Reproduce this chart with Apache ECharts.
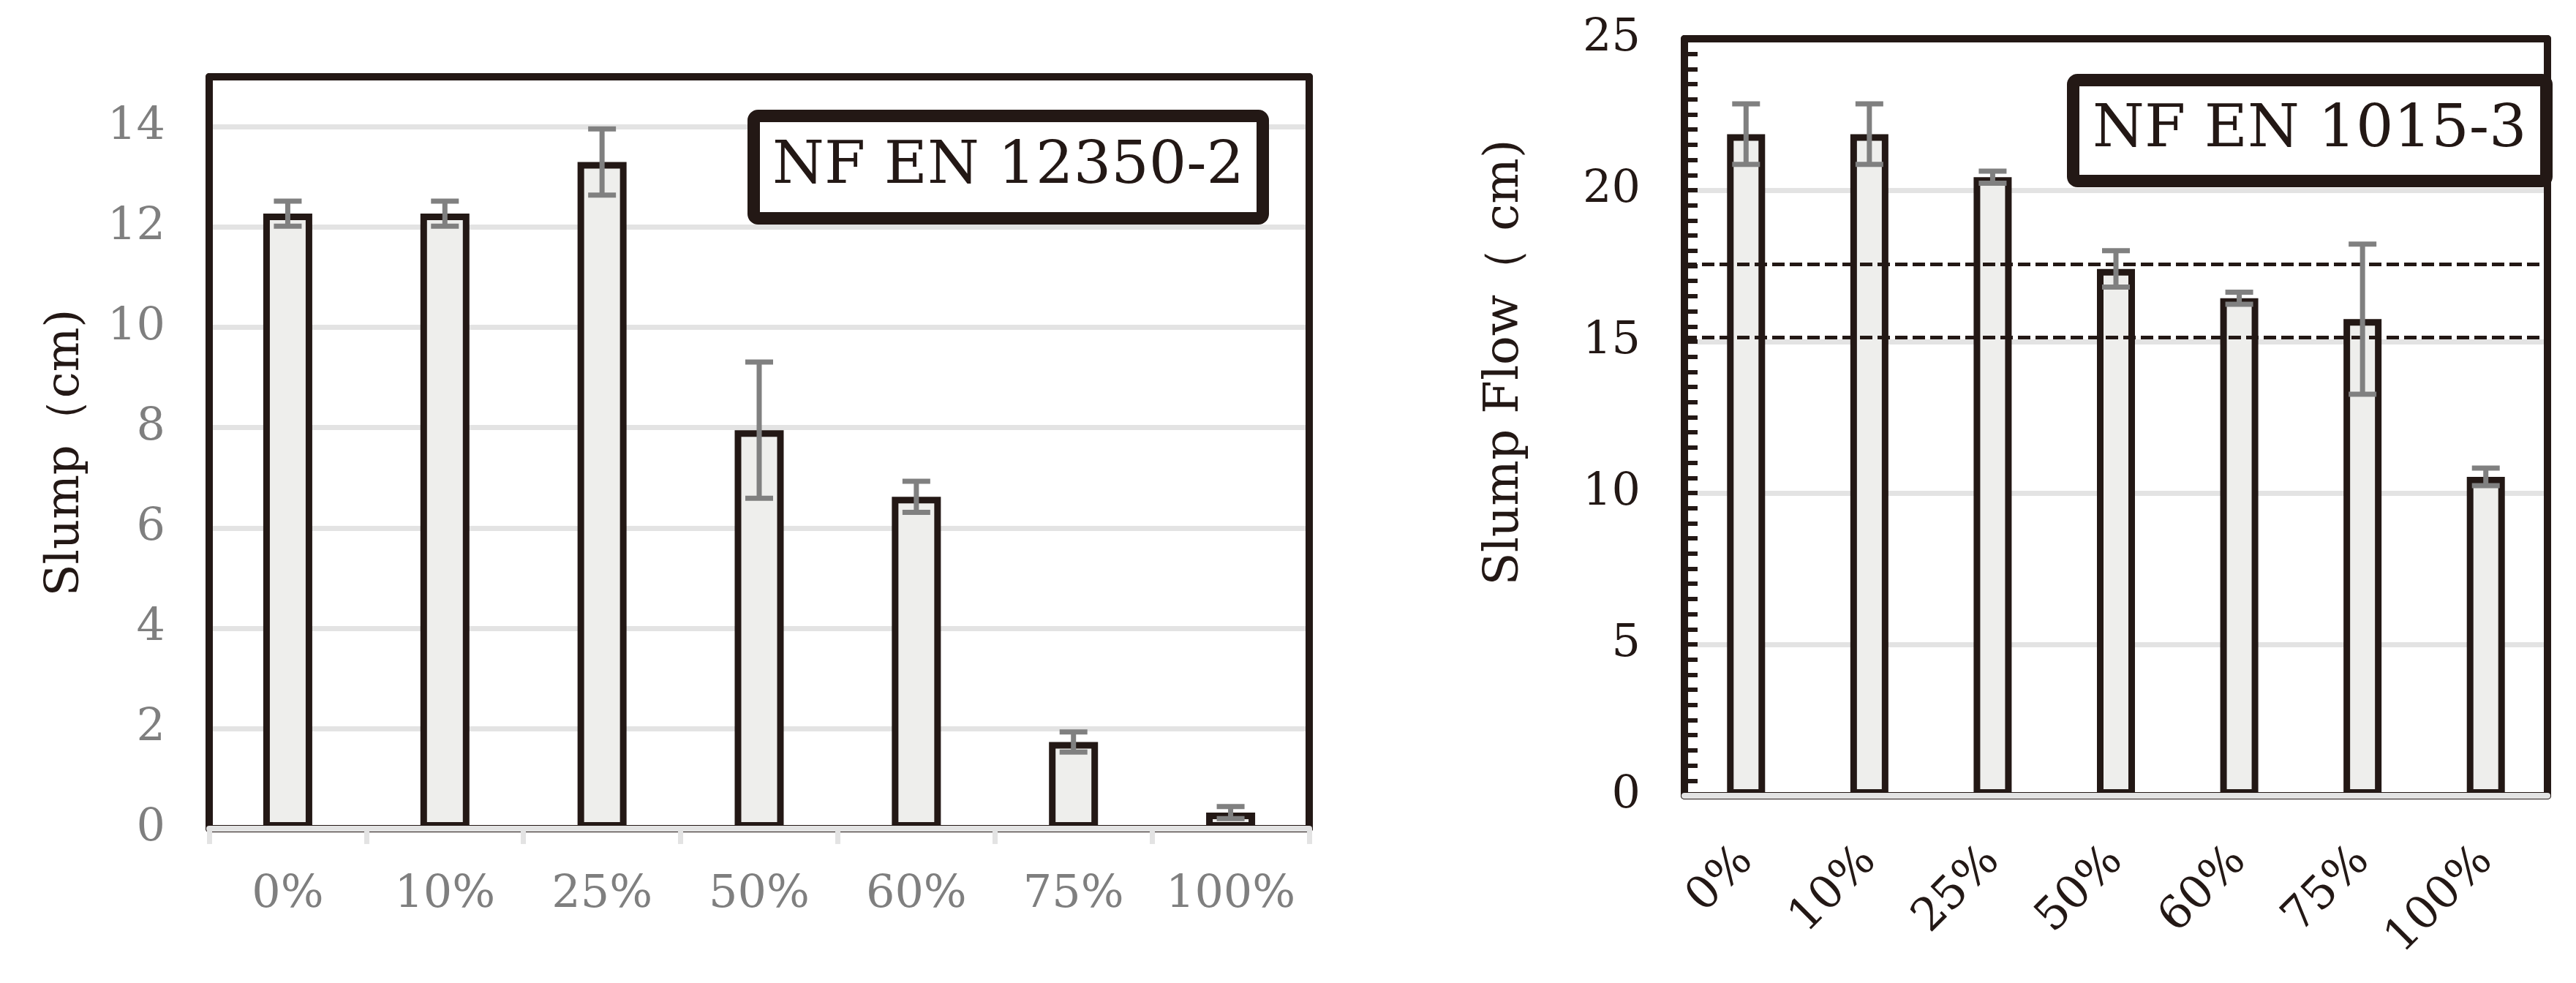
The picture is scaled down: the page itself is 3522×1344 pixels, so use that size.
<!DOCTYPE html>
<html>
<head>
<meta charset="utf-8">
<title>Slump</title>
<script src="https://cdn.jsdelivr.net/npm/echarts@6/dist/echarts.min.js"></script>
<style>
    html,body{margin:0;padding:0;background:#fff;}
    #canvas{width:3522px;height:1344px;}
</style>
</head>
<body>
<div id="canvas"></div>
<script>
    var categories = ['0%','10%','25%','50%','60%','75%','100%'];
    // NF EN 12350-2
    var slump = [12.27, 12.27, 13.3, 7.95, 6.62, 1.73, 0.32];
    var slumpErr = [0.25, 0.25, 0.66, 1.36, 0.31, 0.2, 0.12];
    // NF EN 1015-3
    var flow = [21.85, 21.85, 20.43, 17.4, 16.43, 15.74, 10.53];
    var flowErr = [1.0, 1.0, 0.2, 0.6, 0.2, 2.48, 0.29];
    var flowLimits = [17.55, 15.15];

    var serif = 'DejaVu Serif';
    var ink = '#231815';

    function errData(vals, errs){
        return vals.map(function(v, i){
            return [i, v - errs[i], v + errs[i]];
        });
    }

    function errBar(params, api){
        var i = api.value(0);
        var top = api.coord([i, api.value(2)]);
        var bot = api.coord([i, api.value(1)]);
        var w = 19;
        var st = {stroke:'#808080', lineWidth:7};
        return {type:'group', children:[
            {type:'line', shape:{x1:top[0], y1:top[1], x2:bot[0], y2:bot[1]}, style:st},
            {type:'line', shape:{x1:top[0]-w, y1:top[1], x2:top[0]+w, y2:top[1]}, style:st},
            {type:'line', shape:{x1:bot[0]-w, y1:bot[1], x2:bot[0]+w, y2:bot[1]}, style:st}
        ]};
    }

    function frameX(grid, pos){
        return {
            gridIndex: grid, type:'category', data: categories, position: pos, z: 3,
            axisLine:{show:true, lineStyle:{color:ink, width:10}},
            axisTick:{show:false}, axisLabel:{show:false}
        };
    }
    function frameY(grid, max){
        return {
            gridIndex: grid, type:'value', min:0, max:max, position:'right', z: 3,
            axisLine:{show:true, lineStyle:{color:ink, width:10}},
            axisTick:{show:false}, axisLabel:{show:false}, splitLine:{show:false}
        };
    }

    var myChart = echarts.init(document.getElementById('canvas'));

    var option = {
        animation: false,
        backgroundColor: '#fff',
        textStyle: {fontFamily: serif},
        title: [
            {
                text: 'NF EN 12350-2', left: 1030, top: 158,
                padding: [30, 26], borderWidth: 17, borderColor: ink, borderRadius: 6,
                backgroundColor: '#fff',
                textStyle: {fontFamily: serif, fontSize: 81, fontWeight: 'normal', color: ink}
            },
            {
                text: 'NF EN 1015-3', left: 2834, top: 109,
                padding: [29, 27], borderWidth: 17, borderColor: ink, borderRadius: 6,
                backgroundColor: '#fff',
                textStyle: {fontFamily: serif, fontSize: 81, fontWeight: 'normal', color: ink}
            }
        ],
        grid: [
            {left: 286, right: 1732, top: 105, bottom: 211, outerBoundsMode: 'none'},
            {left: 2303, right: 39, top: 53, bottom: 256, outerBoundsMode: 'none'}
        ],
        xAxis: [
            {
                gridIndex: 0, type: 'category', data: categories, position: 'bottom', offset: 3, z: 4,
                axisLine: {show: true, lineStyle: {color: '#e3e3e3', width: 8}},
                axisTick: {show: true, length: 21, lineStyle: {color: '#e3e3e3', width: 7}},
                axisLabel: {interval: 0, margin: 57, color: '#7f7f7f', fontFamily: serif, fontSize: 62}
            },
            {
                gridIndex: 0, type: 'category', data: categories, position: 'bottom', offset: 3, z: 3,
                axisLine: {show: true, lineStyle: {color: ink, width: 10}},
                axisTick: {show: false}, axisLabel: {show: false}
            },
            frameX(0, 'top'),
            {
                gridIndex: 1, type: 'category', data: categories, position: 'bottom', offset: 2, z: 4,
                axisLine: {show: true, lineStyle: {color: '#e3e3e3', width: 8}},
                axisTick: {show: false},
                axisLabel: {interval: 0, rotate: 45, margin: 78, color: ink, fontFamily: serif, fontSize: 62}
            },
            {
                gridIndex: 1, type: 'category', data: categories, position: 'bottom', offset: 2, z: 3,
                axisLine: {show: true, lineStyle: {color: ink, width: 10}},
                axisTick: {show: false}, axisLabel: {show: false}
            },
            frameX(1, 'top')
        ],
        yAxis: [
            {
                gridIndex: 0, type: 'value', min: 0, max: 15, interval: 2, position: 'left',
                name: 'Slump（cm)', nameLocation: 'middle', nameGap: 164,
                nameTextStyle: {fontFamily: serif, fontSize: 64, color: ink},
                axisLine: {show: true, lineStyle: {color: ink, width: 10}},
                axisTick: {show: false},
                axisLabel: {margin: 60, showMaxLabel: false, color: '#7f7f7f', fontFamily: serif, fontSize: 62},
                splitLine: {show: true, lineStyle: {color: '#e3e3e3', width: 7}}
            },
            frameY(0, 15),
            {
                gridIndex: 1, type: 'value', min: 0, max: 25, interval: 5, position: 'left',
                name: 'Slump Flow（ cm)', nameLocation: 'middle', nameGap: 212,
                nameTextStyle: {fontFamily: serif, fontSize: 66, color: ink, padding: [0, 0, 0, 150]},
                axisLine: {show: true, lineStyle: {color: ink, width: 10}},
                axisTick: {show: true, inside: true, length: 18, lineStyle: {color: ink, width: 6}},
                minorTick: {show: true, splitNumber: 10, length: 18, lineStyle: {color: ink, width: 6}},
                axisLabel: {margin: 60, color: ink, fontFamily: serif, fontSize: 62},
                splitLine: {show: true, lineStyle: {color: '#e3e3e3', width: 7}}
            },
            frameY(1, 25)
        ],
        series: [
            {
                name: 'Slump', type: 'bar', xAxisIndex: 0, yAxisIndex: 0,
                barWidth: 67, data: slump,
                itemStyle: {color: '#eeeeec', borderColor: ink, borderWidth: 9}
            },
            {
                type: 'custom', xAxisIndex: 0, yAxisIndex: 0, z: 5,
                renderItem: errBar, encode: {x: 0, y: [1, 2]},
                data: errData(slump, slumpErr)
            },
            {
                name: 'Slump Flow', type: 'bar', xAxisIndex: 3, yAxisIndex: 2,
                barWidth: 52, data: flow,
                itemStyle: {color: '#eeeeec', borderColor: ink, borderWidth: 9},
                markLine: {
                    silent: true, symbol: 'none', label: {show: false},
                    lineStyle: {color: ink, width: 5, type: [17, 7]},
                    data: flowLimits.map(function(v){ return {yAxis: v}; })
                }
            },
            {
                type: 'custom', xAxisIndex: 3, yAxisIndex: 2, z: 5,
                renderItem: errBar, encode: {x: 0, y: [1, 2]},
                data: errData(flow, flowErr)
            }
        ]
    };

    myChart.setOption(option);
</script>
</body>
</html>
